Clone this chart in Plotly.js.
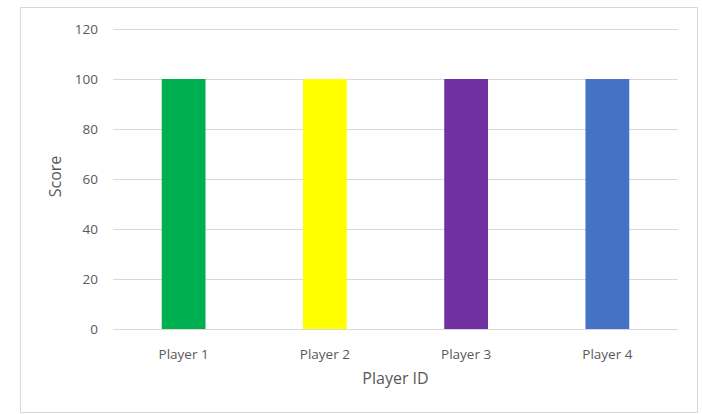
<!DOCTYPE html>
<html>
<head>
<meta charset="utf-8">
<script src="https://cdn.plot.ly/plotly-3.0.1.min.js"></script>
<style>
html,body{margin:0;padding:0;background:#fff;}
#wrap{position:relative;width:702px;height:414px;}
#chart{width:702px;height:414px;}
#frame{position:absolute;left:20px;top:7px;width:676px;height:404px;border:1px solid #d9d9d9;pointer-events:none;}
</style>
</head>
<body>
<div id="wrap"><div id="chart"></div><div id="frame"></div></div>
<script>
const players = ["Player 1", "Player 2", "Player 3", "Player 4"];
const scores = [100, 100, 100, 100];
const colors = ["#00B050", "#FFFF00", "#7030A0", "#4472C4"];
const yTicks = [0, 20, 40, 60, 80, 100, 120];

const trace = {
  type: "bar",
  x: players,
  y: scores,
  marker: {color: colors},
  hoverinfo: "none"
};

const layout = {
  width: 702, height: 414,
  margin: {l: 113, r: 24, t: 24, b: 85},
  paper_bgcolor: "#ffffff",
  plot_bgcolor: "#ffffff",
  bargap: 0.69,
  showlegend: false,
  font: {family: "Open Sans, sans-serif", color: "#595959", size: 13},
  xaxis: {
    title: {text: "Player ID", font: {size: 16, color: "#595959"}, standoff: 11},
    showgrid: false,
    showline: false,
    zeroline: false,
    ticks: "",
    ticklabelstandoff: 15,
    tickfont: {size: 13.5, color: "#595959"}
  },
  yaxis: {
    title: {text: "Score", font: {size: 16, color: "#595959"}, standoff: 9},
    range: [0, 122],
    tickvals: yTicks,
    showgrid: true,
    gridcolor: "#d9d9d9",
    gridwidth: 1,
    zeroline: true,
    zerolinecolor: "#d9d9d9",
    zerolinewidth: 1,
    showline: false,
    ticks: "",
    ticklabelstandoff: 14,
    tickfont: {size: 13.5, color: "#595959"}
  }
};

Plotly.newPlot("chart", [trace], layout, {displayModeBar: false, staticPlot: true});
</script>
</body>
</html>
